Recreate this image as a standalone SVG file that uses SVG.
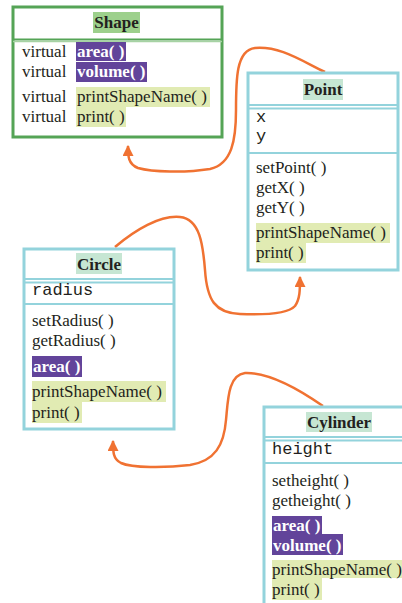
<svg xmlns="http://www.w3.org/2000/svg" width="402" height="603" viewBox="0 0 402 603">
<defs>
<style>
.t{font-family:"Liberation Serif","Times New Roman",serif;font-size:17px;fill:#231f20}
.b{font-weight:bold}
.w{fill:#ffffff;font-weight:bold}
.c{text-anchor:middle}
.m{font-family:"Liberation Mono","Courier New",monospace;font-size:17px;fill:#231f20}
.gbox{fill:#ffffff;stroke:#55a456;stroke-width:3}
.cbox{fill:#ffffff;stroke:#93d3dc;stroke-width:3}
.cl{stroke:#93d3dc;stroke-width:2;fill:none}
.pu{fill:#62449a}
.yl{fill:#e1ebb3}
.mt{fill:#c6e6d3}
.gt{fill:#9dd08c}
.con{fill:none;stroke:#f07232;stroke-width:2.5}
</style>
<marker id="ah" viewBox="0 0 10 10" refX="9" refY="5" markerWidth="4.4" markerHeight="4.4" orient="auto" markerUnits="strokeWidth">
<path d="M0,0 L10,5 L0,10 z" fill="#f07232"/>
</marker>
</defs>

<g id="connectors">
<path class="con" d="M325,72 C300,60 280,46 255,48 C236,50 236,80 236,110 C236,140 232,164 210,169 C185,173 152,172 138,168 C128,164 128,156 128,146" marker-end="url(#ah)"/>
<path class="con" d="M115,247 C135,230 160,215 180,217 C200,219 203,245 205,270 C207,300 215,313 240,314 C265,315 288,314 295,306 C300,299 300,290 300,277" marker-end="url(#ah)"/>
<path class="con" d="M323,406 C300,390 270,372 245,373 C228,375 228,400 226,420 C224,445 215,461 190,465 C165,468 132,468 121,463 C113,459 113,452 113,441" marker-end="url(#ah)"/>
</g>

<g id="shape">
<rect class="gbox" x="13" y="7" width="209" height="130"/>
<line x1="13" y1="39.5" x2="222" y2="39.5" stroke="#55a456" stroke-width="2"/>
<line x1="13" y1="41.5" x2="222" y2="41.5" stroke="#a7d3a4" stroke-width="1.5"/>
<rect class="gt" x="93" y="12" width="47" height="21"/>
<text class="t b c" x="116.5" y="28">Shape</text>
<rect class="pu" x="76" y="42" width="50" height="19"/>
<rect class="pu" x="76" y="62" width="71" height="20"/>
<rect class="yl" x="76" y="87" width="134" height="20"/>
<rect class="yl" x="76" y="107" width="50" height="20"/>
<text class="t" x="22" y="57">virtual</text>
<text class="t" x="22" y="77">virtual</text>
<text class="t" x="22" y="102">virtual</text>
<text class="t" x="22" y="122">virtual</text>
<text class="t w" x="77" y="57">area( )</text>
<text class="t w" x="77" y="77">volume( )</text>
<text class="t" x="77" y="102">printShapeName( )</text>
<text class="t" x="77" y="122">print( )</text>
</g>

<g id="point">
<rect class="cbox" x="248" y="73" width="150" height="197"/>
<line class="cl" x1="248" y1="105" x2="398" y2="105"/>
<line class="cl" x1="248" y1="108.5" x2="398" y2="108.5"/>
<line class="cl" x1="248" y1="153" x2="398" y2="153"/>
<rect class="mt" x="303" y="79" width="40" height="21"/>
<text class="t b c" x="323" y="95">Point</text>
<text class="m" x="256" y="122" font-size="16">x</text>
<text class="m" x="256" y="141" font-size="16">y</text>
<text class="t" x="256" y="173">setPoint( )</text>
<text class="t" x="256" y="193">getX( )</text>
<text class="t" x="256" y="213">getY( )</text>
<rect class="yl" x="256" y="223" width="134" height="20"/>
<rect class="yl" x="256" y="243" width="50" height="20"/>
<text class="t" x="256" y="238">printShapeName( )</text>
<text class="t" x="256" y="258">print( )</text>
</g>

<g id="circle">
<rect class="cbox" x="24" y="249" width="150" height="180"/>
<line class="cl" x1="24" y1="279" x2="174" y2="279"/>
<line class="cl" x1="24" y1="282.5" x2="174" y2="282.5"/>
<line class="cl" x1="24" y1="304" x2="174" y2="304"/>
<rect class="mt" x="76" y="253" width="46" height="21"/>
<text class="t b c" x="99" y="270">Circle</text>
<text class="m" x="32" y="295">radius</text>
<text class="t" x="32" y="326">setRadius( )</text>
<text class="t" x="32" y="346">getRadius( )</text>
<rect class="pu" x="32" y="356" width="50" height="21"/>
<text class="t w" x="33" y="372">area( )</text>
<rect class="yl" x="32" y="381" width="134" height="21"/>
<rect class="yl" x="32" y="402" width="50" height="21"/>
<text class="t" x="32" y="397">printShapeName( )</text>
<text class="t" x="32" y="418">print( )</text>
</g>

<g id="cylinder">
<rect class="cbox" x="264" y="407" width="160" height="220"/>
<line class="cl" x1="264" y1="437" x2="424" y2="437"/>
<line class="cl" x1="264" y1="440.5" x2="424" y2="440.5"/>
<line class="cl" x1="264" y1="463" x2="424" y2="463"/>
<rect class="mt" x="306" y="412" width="66" height="20"/>
<text class="t b c" x="339" y="428">Cylinder</text>
<text class="m" x="272" y="454">height</text>
<text class="t" x="272" y="486">setheight( )</text>
<text class="t" x="272" y="506">getheight( )</text>
<rect class="pu" x="272" y="516" width="50" height="18"/>
<rect class="pu" x="272" y="534" width="71" height="21"/>
<text class="t w" x="273" y="531">area( )</text>
<text class="t w" x="273" y="551">volume( )</text>
<rect class="yl" x="272" y="560" width="134" height="18"/>
<rect class="yl" x="272" y="578" width="50" height="22"/>
<text class="t" x="272" y="575">printShapeName( )</text>
<text class="t" x="272" y="595">print( )</text>
</g>
</svg>
